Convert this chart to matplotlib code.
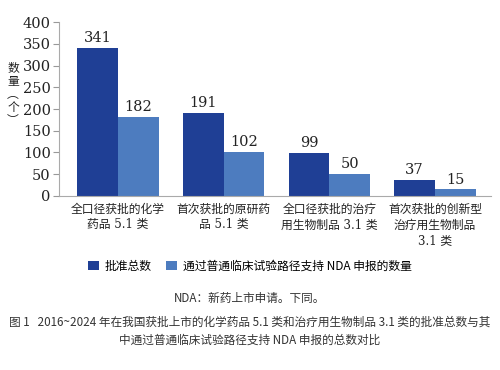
import matplotlib
matplotlib.use("Agg")
import matplotlib.pyplot as plt
import numpy as np

# data
categories = ["全口径获批的化学\n药品 5.1 类", "首次获批的原研药\n品 5.1 类",
              "全口径获批的治疗\n用生物制品 3.1 类", "首次获批的创新型\n治疗用生物制品\n3.1 类"]
total_approved = [341, 191, 99, 37]
via_trials = [182, 102, 50, 15]
series_names = ["批准总数", "通过普通临床试验路径支持 NDA 申报的数量"]
yticks = [0, 50, 100, 150, 200, 250, 300, 350, 400]

dark = "#1f3f95"
light = "#4d7cbf"
serif_cjk = ["DejaVu Serif", "Noto Sans CJK SC"]
sans_cjk = ["Noto Sans CJK SC", "DejaVu Sans"]

fig = plt.figure(figsize=(5, 3.7), dpi=100)
ax = fig.add_axes([0.118, 0.4703, 0.864, 0.4702])

x = np.arange(len(categories))
w = 0.385
b1 = ax.bar(x - w / 2, total_approved, width=w, color=dark, label=series_names[0])
b2 = ax.bar(x + w / 2, via_trials, width=w, color=light, label=series_names[1])

for bars, vals in [(b1, total_approved), (b2, via_trials)]:
	for r, v in zip(bars, vals):
		ax.annotate(str(v), (r.get_x() + r.get_width() / 2, v), xytext=(0, 2),
		            textcoords="offset points", ha="center", va="bottom",
		            fontsize=10.5, family="DejaVu Serif", color="#222222")

ax.set_ylim(0, 400)
ax.set_xlim(-0.56, 3.53)
ax.set_yticks(yticks)
ax.set_yticklabels([str(t) for t in yticks], family="DejaVu Serif", fontsize=10.5, color="#222222")
ax.set_xticks(x)
ax.set_xticklabels(categories, family=serif_cjk, fontsize=8.5, color="#222222", linespacing=1.25)
ax.tick_params(axis="x", length=0, pad=5)
ax.tick_params(axis="y", length=4, color="#999999", pad=2)
for s in ["top", "right"]:
	ax.spines[s].set_visible(False)
for s in ["left", "bottom"]:
	ax.spines[s].set_color("#aaaaaa")

fig.text(0.026, 0.745, "数\n量\n︵\n个\n︶", family=sans_cjk, fontsize=8.5,
         ha="center", va="center", linespacing=1.0, color="#222222")

fig.legend(handles=[b1, b2], loc="center", bbox_to_anchor=(0.5, 1 - 266 / 370), ncol=2,
           frameon=False, prop={"family": sans_cjk, "size": 8.5}, handlelength=0.9,
           handleheight=0.9, handletextpad=0.5, columnspacing=1.2)

fig.text(0.5, 1 - 298 / 370, "NDA：新药上市申请。下同。", family=sans_cjk, fontsize=8.4,
         ha="center", va="center", color="#333333")
fig.text(0.5, 1 - 322 / 370, "图 1   2016~2024 年在我国获批上市的化学药品 5.1 类和治疗用生物制品 3.1 类的批准总数与其",
         family=sans_cjk, fontsize=8.4, ha="center", va="center", color="#333333")
fig.text(0.5, 1 - 340 / 370, "中通过普通临床试验路径支持 NDA 申报的总数对比", family=sans_cjk,
         fontsize=8.4, ha="center", va="center", color="#333333")

fig.savefig("out.png", dpi=100)
